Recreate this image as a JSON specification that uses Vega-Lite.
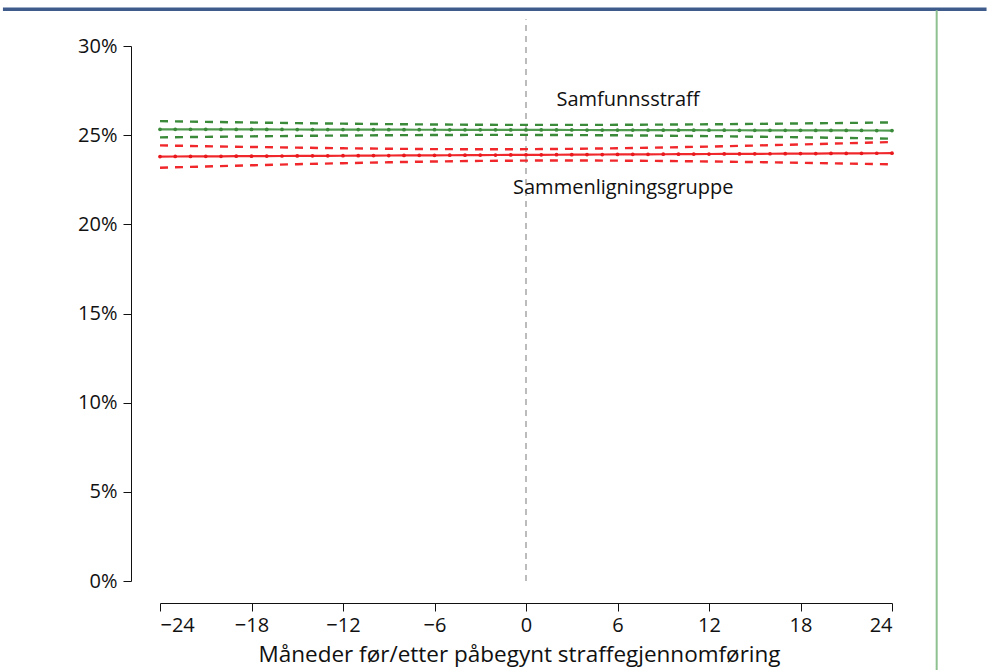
{
  "$schema": "https://vega.github.io/schema/vega-lite/v6.json",
  "autosize": {"type": "none"},
  "width": 732,
  "height": 535,
  "padding": {"left": 160, "top": 46, "right": 95, "bottom": 89},
  "background": "white",
  "config": {
    "view": {"stroke": null},
    "font": "Open Sans",
    "axis": {"labelFont": "Open Sans", "titleFont": "Open Sans", "labelColor": "#111", "titleColor": "#111", "domainColor": "#111", "tickColor": "#111", "grid": false}
  },
  "datasets": {
    "est": [
      {"month": -24, "value": 25.330, "series": "Samfunnsstraff"}, {"month": -23, "value": 25.329, "series": "Samfunnsstraff"}, {"month": -22, "value": 25.327, "series": "Samfunnsstraff"}, {"month": -21, "value": 25.326, "series": "Samfunnsstraff"}, {"month": -20, "value": 25.324, "series": "Samfunnsstraff"}, {"month": -19, "value": 25.323, "series": "Samfunnsstraff"}, {"month": -18, "value": 25.321, "series": "Samfunnsstraff"}, {"month": -17, "value": 25.320, "series": "Samfunnsstraff"}, {"month": -16, "value": 25.318, "series": "Samfunnsstraff"}, {"month": -15, "value": 25.317, "series": "Samfunnsstraff"}, {"month": -14, "value": 25.315, "series": "Samfunnsstraff"}, {"month": -13, "value": 25.314, "series": "Samfunnsstraff"}, {"month": -12, "value": 25.313, "series": "Samfunnsstraff"}, {"month": -11, "value": 25.311, "series": "Samfunnsstraff"}, {"month": -10, "value": 25.310, "series": "Samfunnsstraff"}, {"month": -9, "value": 25.308, "series": "Samfunnsstraff"}, {"month": -8, "value": 25.307, "series": "Samfunnsstraff"}, {"month": -7, "value": 25.305, "series": "Samfunnsstraff"}, {"month": -6, "value": 25.304, "series": "Samfunnsstraff"}, {"month": -5, "value": 25.302, "series": "Samfunnsstraff"}, {"month": -4, "value": 25.301, "series": "Samfunnsstraff"}, {"month": -3, "value": 25.299, "series": "Samfunnsstraff"}, {"month": -2, "value": 25.298, "series": "Samfunnsstraff"}, {"month": -1, "value": 25.296, "series": "Samfunnsstraff"}, {"month": 0, "value": 25.295, "series": "Samfunnsstraff"}, {"month": 1, "value": 25.294, "series": "Samfunnsstraff"}, {"month": 2, "value": 25.292, "series": "Samfunnsstraff"}, {"month": 3, "value": 25.291, "series": "Samfunnsstraff"}, {"month": 4, "value": 25.289, "series": "Samfunnsstraff"}, {"month": 5, "value": 25.288, "series": "Samfunnsstraff"}, {"month": 6, "value": 25.286, "series": "Samfunnsstraff"}, {"month": 7, "value": 25.285, "series": "Samfunnsstraff"}, {"month": 8, "value": 25.283, "series": "Samfunnsstraff"}, {"month": 9, "value": 25.282, "series": "Samfunnsstraff"}, {"month": 10, "value": 25.280, "series": "Samfunnsstraff"}, {"month": 11, "value": 25.279, "series": "Samfunnsstraff"}, {"month": 12, "value": 25.277, "series": "Samfunnsstraff"}, {"month": 13, "value": 25.276, "series": "Samfunnsstraff"}, {"month": 14, "value": 25.275, "series": "Samfunnsstraff"}, {"month": 15, "value": 25.273, "series": "Samfunnsstraff"}, {"month": 16, "value": 25.272, "series": "Samfunnsstraff"}, {"month": 17, "value": 25.270, "series": "Samfunnsstraff"}, {"month": 18, "value": 25.269, "series": "Samfunnsstraff"}, {"month": 19, "value": 25.267, "series": "Samfunnsstraff"}, {"month": 20, "value": 25.266, "series": "Samfunnsstraff"}, {"month": 21, "value": 25.264, "series": "Samfunnsstraff"}, {"month": 22, "value": 25.263, "series": "Samfunnsstraff"}, {"month": 23, "value": 25.261, "series": "Samfunnsstraff"}, {"month": 24, "value": 25.260, "series": "Samfunnsstraff"},
      {"month": -24, "value": 23.800, "series": "Sammenligningsgruppe"}, {"month": -23, "value": 23.804, "series": "Sammenligningsgruppe"}, {"month": -22, "value": 23.808, "series": "Sammenligningsgruppe"}, {"month": -21, "value": 23.812, "series": "Sammenligningsgruppe"}, {"month": -20, "value": 23.816, "series": "Sammenligningsgruppe"}, {"month": -19, "value": 23.820, "series": "Sammenligningsgruppe"}, {"month": -18, "value": 23.824, "series": "Sammenligningsgruppe"}, {"month": -17, "value": 23.828, "series": "Sammenligningsgruppe"}, {"month": -16, "value": 23.832, "series": "Sammenligningsgruppe"}, {"month": -15, "value": 23.836, "series": "Sammenligningsgruppe"}, {"month": -14, "value": 23.840, "series": "Sammenligningsgruppe"}, {"month": -13, "value": 23.844, "series": "Sammenligningsgruppe"}, {"month": -12, "value": 23.847, "series": "Sammenligningsgruppe"}, {"month": -11, "value": 23.851, "series": "Sammenligningsgruppe"}, {"month": -10, "value": 23.855, "series": "Sammenligningsgruppe"}, {"month": -9, "value": 23.859, "series": "Sammenligningsgruppe"}, {"month": -8, "value": 23.863, "series": "Sammenligningsgruppe"}, {"month": -7, "value": 23.867, "series": "Sammenligningsgruppe"}, {"month": -6, "value": 23.871, "series": "Sammenligningsgruppe"}, {"month": -5, "value": 23.875, "series": "Sammenligningsgruppe"}, {"month": -4, "value": 23.879, "series": "Sammenligningsgruppe"}, {"month": -3, "value": 23.883, "series": "Sammenligningsgruppe"}, {"month": -2, "value": 23.887, "series": "Sammenligningsgruppe"}, {"month": -1, "value": 23.891, "series": "Sammenligningsgruppe"}, {"month": 0, "value": 23.895, "series": "Sammenligningsgruppe"}, {"month": 1, "value": 23.899, "series": "Sammenligningsgruppe"}, {"month": 2, "value": 23.903, "series": "Sammenligningsgruppe"}, {"month": 3, "value": 23.907, "series": "Sammenligningsgruppe"}, {"month": 4, "value": 23.911, "series": "Sammenligningsgruppe"}, {"month": 5, "value": 23.915, "series": "Sammenligningsgruppe"}, {"month": 6, "value": 23.919, "series": "Sammenligningsgruppe"}, {"month": 7, "value": 23.923, "series": "Sammenligningsgruppe"}, {"month": 8, "value": 23.927, "series": "Sammenligningsgruppe"}, {"month": 9, "value": 23.931, "series": "Sammenligningsgruppe"}, {"month": 10, "value": 23.935, "series": "Sammenligningsgruppe"}, {"month": 11, "value": 23.939, "series": "Sammenligningsgruppe"}, {"month": 12, "value": 23.943, "series": "Sammenligningsgruppe"}, {"month": 13, "value": 23.946, "series": "Sammenligningsgruppe"}, {"month": 14, "value": 23.950, "series": "Sammenligningsgruppe"}, {"month": 15, "value": 23.954, "series": "Sammenligningsgruppe"}, {"month": 16, "value": 23.958, "series": "Sammenligningsgruppe"}, {"month": 17, "value": 23.962, "series": "Sammenligningsgruppe"}, {"month": 18, "value": 23.966, "series": "Sammenligningsgruppe"}, {"month": 19, "value": 23.970, "series": "Sammenligningsgruppe"}, {"month": 20, "value": 23.974, "series": "Sammenligningsgruppe"}, {"month": 21, "value": 23.978, "series": "Sammenligningsgruppe"}, {"month": 22, "value": 23.982, "series": "Sammenligningsgruppe"}, {"month": 23, "value": 23.986, "series": "Sammenligningsgruppe"}, {"month": 24, "value": 23.990, "series": "Sammenligningsgruppe"}
    ],
    "ci": [
      {"month": -24, "value": 25.785, "series": "Samfunnsstraff", "bound": "upper"}, {"month": -21, "value": 25.746, "series": "Samfunnsstraff", "bound": "upper"}, {"month": -18, "value": 25.709, "series": "Samfunnsstraff", "bound": "upper"}, {"month": -15, "value": 25.676, "series": "Samfunnsstraff", "bound": "upper"}, {"month": -12, "value": 25.645, "series": "Samfunnsstraff", "bound": "upper"}, {"month": -9, "value": 25.619, "series": "Samfunnsstraff", "bound": "upper"}, {"month": -6, "value": 25.598, "series": "Samfunnsstraff", "bound": "upper"}, {"month": -3, "value": 25.583, "series": "Samfunnsstraff", "bound": "upper"}, {"month": 0, "value": 25.575, "series": "Samfunnsstraff", "bound": "upper"}, {"month": 3, "value": 25.575, "series": "Samfunnsstraff", "bound": "upper"}, {"month": 6, "value": 25.580, "series": "Samfunnsstraff", "bound": "upper"}, {"month": 9, "value": 25.593, "series": "Samfunnsstraff", "bound": "upper"}, {"month": 12, "value": 25.609, "series": "Samfunnsstraff", "bound": "upper"}, {"month": 15, "value": 25.632, "series": "Samfunnsstraff", "bound": "upper"}, {"month": 18, "value": 25.657, "series": "Samfunnsstraff", "bound": "upper"}, {"month": 21, "value": 25.684, "series": "Samfunnsstraff", "bound": "upper"}, {"month": 24, "value": 25.715, "series": "Samfunnsstraff", "bound": "upper"},
      {"month": -24, "value": 24.875, "series": "Samfunnsstraff", "bound": "lower"}, {"month": -21, "value": 24.906, "series": "Samfunnsstraff", "bound": "lower"}, {"month": -18, "value": 24.933, "series": "Samfunnsstraff", "bound": "lower"}, {"month": -15, "value": 24.958, "series": "Samfunnsstraff", "bound": "lower"}, {"month": -12, "value": 24.981, "series": "Samfunnsstraff", "bound": "lower"}, {"month": -9, "value": 24.997, "series": "Samfunnsstraff", "bound": "lower"}, {"month": -6, "value": 25.010, "series": "Samfunnsstraff", "bound": "lower"}, {"month": -3, "value": 25.015, "series": "Samfunnsstraff", "bound": "lower"}, {"month": 0, "value": 25.015, "series": "Samfunnsstraff", "bound": "lower"}, {"month": 3, "value": 25.007, "series": "Samfunnsstraff", "bound": "lower"}, {"month": 6, "value": 24.992, "series": "Samfunnsstraff", "bound": "lower"}, {"month": 9, "value": 24.971, "series": "Samfunnsstraff", "bound": "lower"}, {"month": 12, "value": 24.945, "series": "Samfunnsstraff", "bound": "lower"}, {"month": 15, "value": 24.914, "series": "Samfunnsstraff", "bound": "lower"}, {"month": 18, "value": 24.881, "series": "Samfunnsstraff", "bound": "lower"}, {"month": 21, "value": 24.844, "series": "Samfunnsstraff", "bound": "lower"}, {"month": 24, "value": 24.805, "series": "Samfunnsstraff", "bound": "lower"},
      {"month": -24, "value": 24.425, "series": "Sammenligningsgruppe", "bound": "upper"}, {"month": -21, "value": 24.380, "series": "Sammenligningsgruppe", "bound": "upper"}, {"month": -18, "value": 24.338, "series": "Sammenligningsgruppe", "bound": "upper"}, {"month": -15, "value": 24.300, "series": "Sammenligningsgruppe", "bound": "upper"}, {"month": -12, "value": 24.265, "series": "Sammenligningsgruppe", "bound": "upper"}, {"month": -9, "value": 24.237, "series": "Sammenligningsgruppe", "bound": "upper"}, {"month": -6, "value": 24.218, "series": "Sammenligningsgruppe", "bound": "upper"}, {"month": -3, "value": 24.210, "series": "Sammenligningsgruppe", "bound": "upper"}, {"month": 0, "value": 24.215, "series": "Sammenligningsgruppe", "bound": "upper"}, {"month": 3, "value": 24.234, "series": "Sammenligningsgruppe", "bound": "upper"}, {"month": 6, "value": 24.266, "series": "Sammenligningsgruppe", "bound": "upper"}, {"month": 9, "value": 24.309, "series": "Sammenligningsgruppe", "bound": "upper"}, {"month": 12, "value": 24.361, "series": "Sammenligningsgruppe", "bound": "upper"}, {"month": 15, "value": 24.418, "series": "Sammenligningsgruppe", "bound": "upper"}, {"month": 18, "value": 24.480, "series": "Sammenligningsgruppe", "bound": "upper"}, {"month": 21, "value": 24.546, "series": "Sammenligningsgruppe", "bound": "upper"}, {"month": 24, "value": 24.615, "series": "Sammenligningsgruppe", "bound": "upper"},
      {"month": -24, "value": 23.175, "series": "Sammenligningsgruppe", "bound": "lower"}, {"month": -21, "value": 23.244, "series": "Sammenligningsgruppe", "bound": "lower"}, {"month": -18, "value": 23.310, "series": "Sammenligningsgruppe", "bound": "lower"}, {"month": -15, "value": 23.372, "series": "Sammenligningsgruppe", "bound": "lower"}, {"month": -12, "value": 23.429, "series": "Sammenligningsgruppe", "bound": "lower"}, {"month": -9, "value": 23.481, "series": "Sammenligningsgruppe", "bound": "lower"}, {"month": -6, "value": 23.524, "series": "Sammenligningsgruppe", "bound": "lower"}, {"month": -3, "value": 23.556, "series": "Sammenligningsgruppe", "bound": "lower"}, {"month": 0, "value": 23.575, "series": "Sammenligningsgruppe", "bound": "lower"}, {"month": 3, "value": 23.580, "series": "Sammenligningsgruppe", "bound": "lower"}, {"month": 6, "value": 23.572, "series": "Sammenligningsgruppe", "bound": "lower"}, {"month": 9, "value": 23.553, "series": "Sammenligningsgruppe", "bound": "lower"}, {"month": 12, "value": 23.525, "series": "Sammenligningsgruppe", "bound": "lower"}, {"month": 15, "value": 23.490, "series": "Sammenligningsgruppe", "bound": "lower"}, {"month": 18, "value": 23.452, "series": "Sammenligningsgruppe", "bound": "lower"}, {"month": 21, "value": 23.410, "series": "Sammenligningsgruppe", "bound": "lower"}, {"month": 24, "value": 23.365, "series": "Sammenligningsgruppe", "bound": "lower"}
    ]
  },
  "encoding": {
    "x": {
      "field": "month", "type": "quantitative",
      "scale": {"domain": [-24, 24], "nice": false, "zero": false},
      "axis": {"values": [-24, -18, -12, -6, 0, 6, 12, 18, 24], "offset": 22, "tickSize": 8, "labelFontSize": 20, "labelPadding": 4, "title": "Måneder før/etter påbegynt straffegjennomføring", "titleFontSize": 22.5, "titleFontWeight": "normal", "titleX": 359, "titleY": 58, "titleBaseline": "alphabetic", "titleAlign": "center", "domainWidth": 1, "tickWidth": 1}
    },
    "y": {
      "field": "value", "type": "quantitative",
      "scale": {"domain": [0, 30], "nice": false},
      "axis": {"values": [0, 5, 10, 15, 20, 25, 30], "offset": 29, "tickSize": 8, "labelFontSize": 20, "labelPadding": 6, "labelExpr": "datum.value + '%'", "title": null, "domainWidth": 1, "tickWidth": 1}
    }
  },
  "layer": [
    {
      "data": {"values": [{"month": 0, "value": 0, "value2": 31.5}]},
      "mark": {"type": "rule", "color": "#999999", "strokeWidth": 1.3, "strokeDash": [6, 5]},
      "encoding": {"y2": {"field": "value2"}}
    },
    {
      "data": {"name": "ci"},
      "mark": {"type": "line", "strokeWidth": 2.4, "strokeDash": [8, 7]},
      "encoding": {
        "color": {"field": "series", "type": "nominal", "scale": {"domain": ["Samfunnsstraff", "Sammenligningsgruppe"], "range": ["#3a8a3a", "#f0282c"]}, "legend": null},
        "detail": {"field": "bound"}
      }
    },
    {
      "data": {"name": "est"},
      "mark": {"type": "line", "strokeWidth": 2.2},
      "encoding": {
        "color": {"field": "series", "type": "nominal", "scale": {"domain": ["Samfunnsstraff", "Sammenligningsgruppe"], "range": ["#4f9a4f", "#f0282c"]}, "legend": null}
      }
    },
    {
      "data": {"name": "est"},
      "mark": {"type": "point", "filled": true, "size": 14, "opacity": 1},
      "encoding": {
        "color": {"field": "series", "type": "nominal", "scale": {"domain": ["Samfunnsstraff", "Sammenligningsgruppe"], "range": ["#3a8a3a", "#e8181c"]}, "legend": null}
      }
    },
    {
      "data": {"values": [{"month": 2.0, "value": 26.95, "label": "Samfunnsstraff"}, {"month": -0.85, "value": 22.05, "label": "Sammenligningsgruppe"}]},
      "mark": {"type": "text", "align": "left", "baseline": "middle", "fontSize": 20, "font": "Open Sans", "color": "#111"},
      "encoding": {"text": {"field": "label"}}
    },
    {
      "data": {"values": [{"month": -34.3, "month2": 30.2, "value": 32.06}]},
      "mark": {"type": "rule", "color": "#3f5b8c", "strokeWidth": 3.5},
      "encoding": {"x2": {"field": "month2"}}
    },
    {
      "data": {"values": [{"month": 26.93, "value": 32.0, "value2": -5.0}]},
      "mark": {"type": "rule", "color": "#8fc08f", "strokeWidth": 2},
      "encoding": {"y2": {"field": "value2"}}
    }
  ],
  "resolve": {"scale": {"color": "independent"}}
}
